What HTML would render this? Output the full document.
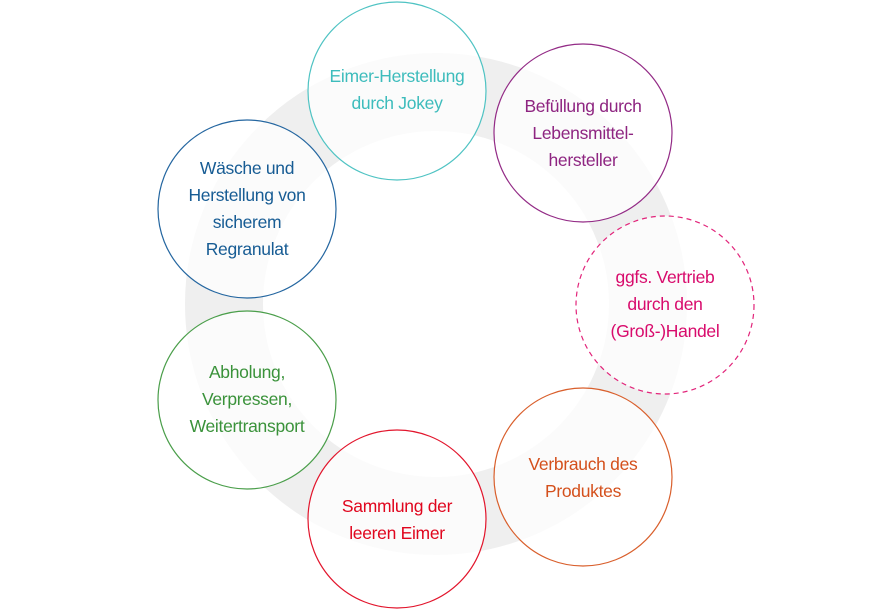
<!DOCTYPE html>
<html><head><meta charset="utf-8"><style>
html,body{margin:0;padding:0;background:#fff;}
body{width:891px;height:610px;position:relative;overflow:hidden;font-family:"Liberation Sans",sans-serif;}
.t{position:absolute;width:178px;text-align:center;font-size:17.5px;line-height:27px;letter-spacing:-0.3px;}
</style></head><body>
<svg width="891" height="610" style="position:absolute;left:0;top:0">
<circle cx="436" cy="304" r="212" fill="none" stroke="#efefef" stroke-width="78"/>
<g fill="rgba(255,255,255,0.72)" stroke-width="1.2">
<circle cx="397" cy="91" r="89" stroke="#4fc3c3"/>
<circle cx="583" cy="133" r="89" stroke="#932b86"/>
<circle cx="665" cy="305" r="89" stroke="#e2247a" stroke-dasharray="5,4"/>
<circle cx="583" cy="477" r="89" stroke="#d95f2c"/>
<circle cx="397" cy="519" r="89" stroke="#e2152c"/>
<circle cx="247" cy="400" r="89" stroke="#4a9e4a"/>
<circle cx="247" cy="209" r="89" stroke="#2466a0"/>
</g></svg>
<div class="t" style="left:308px;top:63px;color:#3dbcbc">Eimer-Herstellung<br>durch Jokey</div>
<div class="t" style="left:494px;top:93px;color:#8e2581">Befüllung durch<br>Lebensmittel-<br>hersteller</div>
<div class="t" style="left:576px;top:264px;color:#d80b6c">ggfs. Vertrieb<br>durch den<br>(Groß-)Handel</div>
<div class="t" style="left:494px;top:451px;color:#d4501c">Verbrauch des<br>Produktes</div>
<div class="t" style="left:308px;top:493px;color:#e0061e">Sammlung der<br>leeren Eimer</div>
<div class="t" style="left:158px;top:359px;color:#3a923a">Abholung,<br>Verpressen,<br>Weitertransport</div>
<div class="t" style="left:158px;top:155px;color:#175c94">Wäsche und<br>Herstellung von<br>sicherem<br>Regranulat</div>
</body></html>
